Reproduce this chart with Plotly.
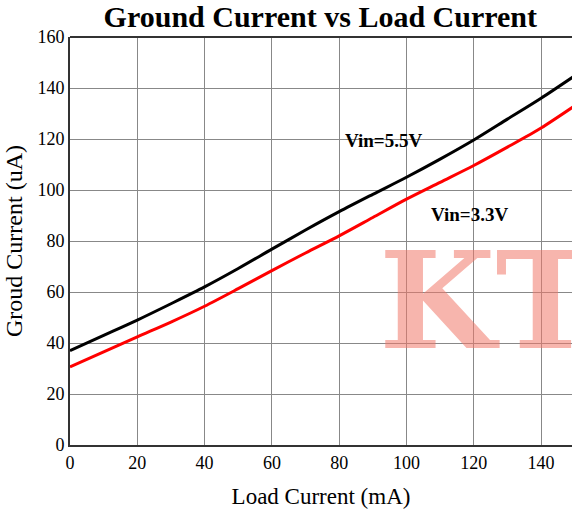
import plotly.graph_objects as go

load_ma = [0, 10, 20, 30, 40, 50, 60, 70, 80, 90, 100, 110, 120, 130, 140, 150]
vin_55 = [37, 43, 49, 55.4, 62, 69.2, 76.8, 84.3, 91.5, 98.3, 105, 112.1, 119.6, 127.8, 136, 144.8]
vin_33 = [30.6, 36.5, 42.4, 48.2, 54.4, 61.3, 68.4, 75.3, 82, 89.2, 96.4, 103, 109.6, 116.8, 124.3, 133]

x_ticks = [0, 20, 40, 60, 80, 100, 120, 140]
y_ticks = [0, 20, 40, 60, 80, 100, 120, 140, 160]

font_family = "Liberation Serif, Times New Roman, serif"

fig = go.Figure()
fig.add_trace(go.Scatter(x=load_ma, y=vin_55, mode="lines", line=dict(color="black", width=3, shape="spline", smoothing=0.8),
                         name="Vin=5.5V", showlegend=False))
fig.add_trace(go.Scatter(x=load_ma, y=vin_33, mode="lines", line=dict(color="#ff0000", width=3, shape="spline", smoothing=0.8),
                         name="Vin=3.3V", showlegend=False))

fig.update_layout(
    width=572, height=517,
    margin=dict(l=70, r=0, t=37, b=72),
    paper_bgcolor="white", plot_bgcolor="white",
    font=dict(family=font_family, size=18, color="black"),
    title=dict(text="<b>Ground Current vs Load Current</b>", x=0.56, xanchor="center", y=0.969, yanchor="middle",
               font=dict(family=font_family, size=30, color="black")),
    xaxis=dict(range=[0, 149.2], tickvals=x_ticks, ticktext=[str(v) for v in x_ticks],
               showgrid=True, gridcolor="#888888", gridwidth=1,
               showline=True, linecolor="#333333", linewidth=2, mirror=False,
               ticks="", zeroline=False, tickfont=dict(size=18),
               title=dict(text="Load Current (mA)", font=dict(size=23), standoff=16)),
    yaxis=dict(range=[0, 160], tickvals=y_ticks, ticktext=[str(v) for v in y_ticks],
               showgrid=True, gridcolor="#888888", gridwidth=1,
               showline=True, linecolor="#333333", linewidth=2,
               ticks="", zeroline=False, tickfont=dict(size=18),
               title=dict(text="Groud Current (uA)", font=dict(size=24), standoff=8)),
    shapes=[dict(type="line", xref="paper", yref="paper", x0=0, x1=1, y0=1, y1=1,
                 line=dict(color="#333333", width=2))],
)

fig.add_annotation(x=0.625, y=0.747, xref="paper", yref="paper", text="<b>Vin=5.5V</b>", showarrow=False,
                   font=dict(family=font_family, size=19, color="black"), xanchor="center", yanchor="middle")
fig.add_annotation(x=0.795, y=0.564, xref="paper", yref="paper", text="<b>Vin=3.3V</b>", showarrow=False,
                   font=dict(family=font_family, size=19, color="black"), xanchor="center", yanchor="middle")
fig.add_annotation(x=0.612, y=0.353, xref="paper", yref="paper", text="<b>KT</b>", showarrow=False,
                   font=dict(family="DejaVu Serif, serif", size=134, color="rgba(240,120,105,0.55)"),
                   xanchor="left", yanchor="middle")

fig.write_html("out.html")
